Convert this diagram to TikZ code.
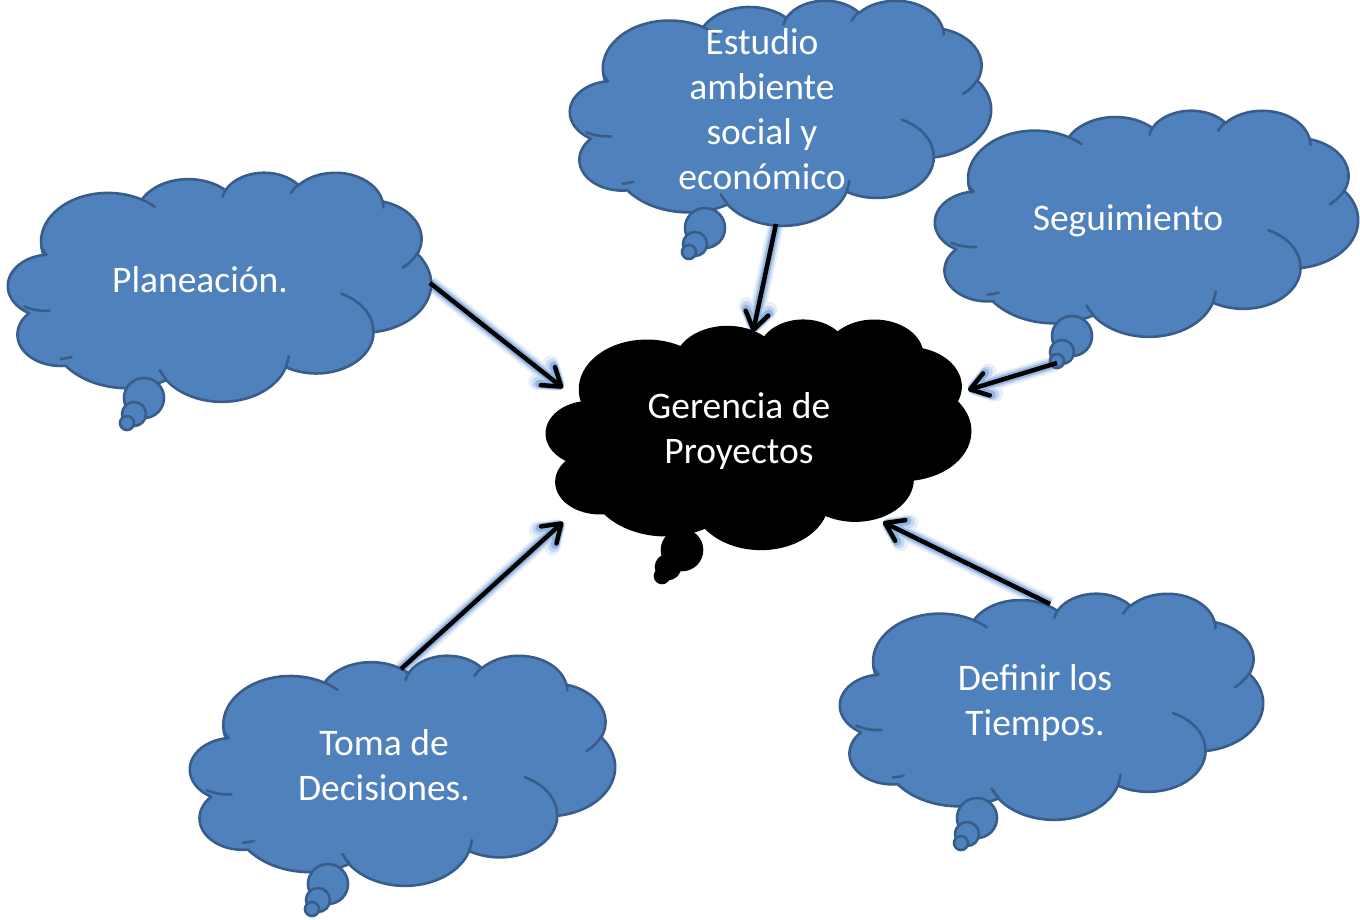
\documentclass[tikz,border=0pt]{standalone}
\usepackage{fontspec}
\setmainfont{Carlito}
\usetikzlibrary{arrows.meta}
\definecolor{cfill}{HTML}{4F81BD}
\definecolor{cline}{HTML}{385D8A}
\definecolor{glowc}{HTML}{5B8FD4}
% OOXML-style arc: wR hR stAng swAng (visual angles, degrees)
\newcommand\ooarc[4]{arc[x radius=#1, y radius=#2,
  start angle={atan2((#1)*sin(#3),(#2)*cos(#3))},
  delta angle={atan2((#1)*sin((#3)+(#4)),(#2)*cos((#3)+(#4))) - atan2((#1)*sin(#3),(#2)*cos(#3)) + 360*round(((#4) - atan2((#1)*sin((#3)+(#4)),(#2)*cos((#3)+(#4))) + atan2((#1)*sin(#3),(#2)*cos(#3)))/360)}]}
\newcommand\pptcloud[5]{%
\begin{scope}[shift={(#1,#2)},xscale=#3/43.2,yscale=#4/43.2]
\path[#5] (3.9,14.37) \ooarc{6.753}{9.19}{-190.48748}{123.78053}
 \ooarc{5.333}{7.267}{-144.10238}{89.94523}
 \ooarc{4.365}{5.945}{-145.80792}{99.72302}
 \ooarc{4.857}{6.595}{-130.98607}{117.24173}
 \ooarc{5.333}{7.273}{-78.70888}{109.02692}
 \ooarc{6.775}{9.22}{-46.26725}{130.269}
 \ooarc{5.785}{7.867}{0.62502}{114.03333}
 \ooarc{6.752}{9.215}{22.4516}{115.17255}
 \ooarc{7.72}{10.543}{66.24263}{68.10498}
 \ooarc{4.36}{5.918}{-274.94208}{146.73557}
 \ooarc{4.345}{5.945}{-246.8285}{152.51885} -- cycle;
\path[#5 inner] (4.693,26.177) \ooarc{4.345}{5.945}{86.742}{26.4295}
 (6.928,34.899) \ooarc{4.36}{5.918}{73.61047}{11.44747}
 (16.478,39.09) \ooarc{6.752}{9.215}{137.62415}{14.0811}
 (28.827,34.751) \ooarc{6.752}{9.215}{6.45327}{15.99835}
 (34.129,22.954) \ooarc{5.785}{7.867}{-70.29235}{70.91737}
 (41.798,15.354) \ooarc{5.333}{7.273}{30.31803}{27.7515}
 (38.324,5.426) \ooarc{4.857}{6.595}{-13.74433}{14.8589}
 (29.078,3.952) \ooarc{4.857}{6.595}{-149.18145}{18.19537}
 (22.141,4.72) \ooarc{4.365}{5.945}{-163.49427}{17.68635}
 (14,5.192) \ooarc{6.753}{9.19}{-66.70695}{12.31935}
 (4.127,15.789) \ooarc{6.753}{9.19}{157.65435}{11.85817};
\end{scope}}
\newcommand\cloudtail[4]{% style, big, mid, small
\path[#1] (#2) circle[radius=20];
\path[#1] (#3) circle[radius=12];
\path[#1] (#4) circle[radius=7];}
\tikzset{
  bluecloud/.style={fill=cfill, draw=cline, line width=2.6pt, line join=round},
  bluecloud inner/.style={draw=cline, line width=2.6pt, line cap=round},
  blackcloud/.style={fill=black, draw=black, line width=2.6pt, line join=round},
  blackcloud inner/.style={draw=black, line width=2.6pt},
  txt/.style={text=white, align=center, inner sep=0pt,
    font=\fontsize{37.5}{45}\selectfont,
    execute at begin node=\strut, execute at end node=\strut},
  tipA/.style={-{Straight Barb[length=17pt,width=23pt,round]}},
  conn/.style={tipA, draw=black, line width=4.5pt},
  glowA/.style={tipA, draw=glowc!14!white, line width=16pt},
  glowB/.style={tipA, draw=glowc!35!white, line width=12pt},
  glowC/.style={tipA, draw=glowc!65!white, line width=8.5pt},
}
\begin{document}
\begin{tikzpicture}[x=1pt,y=-1pt]
\useasboundingbox (0,0) rectangle (1360,919);
\fill[white] (0,0) rectangle (1360,919);
% connector ends
\coordinate (planS) at (430,283);  \coordinate (planT) at (563,388);
\coordinate (estuS) at (776,224);  \coordinate (estuT) at (753,332);
\coordinate (seguS) at (1057,363); \coordinate (seguT) at (968,390);
\coordinate (tomaS) at (401,669);  \coordinate (tomaT) at (563,522);
\coordinate (defiS) at (1050,604); \coordinate (defiT) at (883,522);
% glow (under the clouds)
\foreach \s in {glowA,glowB,glowC}{
  \draw[\s] (planS) -- (planT);
  \draw[\s] (estuS) -- (estuT);
  \draw[\s] (seguS) -- (seguT);
  \draw[\s] (tomaS) -- (tomaT);
  \draw[\s] (defiS) -- (defiT);
}
% clouds
\pptcloud{3}{172}{428}{229}{bluecloud}
\cloudtail{bluecloud}{144,398}{134,414}{127,423}
\pptcloud{565}{0}{426}{225}{bluecloud}
\cloudtail{bluecloud}{705,228}{695,244}{689,252}
\pptcloud{930}{110}{428}{226}{bluecloud}
\cloudtail{bluecloud}{1072,336}{1062,352}{1057,361}
\pptcloud{542}{320}{428}{228}{blackcloud}
\cloudtail{blackcloud}{682,550}{668,567}{662,576}
\pptcloud{185}{655}{430}{230}{bluecloud}
\cloudtail{bluecloud}{328,884}{318,900}{312,909}
\pptcloud{835}{593}{428}{226}{bluecloud}
\cloudtail{bluecloud}{977,818}{967,834}{961,843}
% texts
\node[txt] (plan) at (200,283) {Planeación.};
\node[txt] (estu) at (762,116) {Estudio\\ambiente\\social y\\económico};
\node[txt] (segu) at (1128,221) {Seguimiento};
\node[txt] (gere) at (739,434.5) {Gerencia de\\Proyectos};
\node[txt] (toma) at (384,772) {Toma de\\Decisiones.};
\node[txt] (defi) at (1035,706.5) {Definir los\\Tiempos.};
% connectors
\draw[conn] (planS) -- (planT);
\draw[conn] (estuS) -- (estuT);
\draw[conn] (seguS) -- (seguT);
\draw[conn] (tomaS) -- (tomaT);
\draw[conn] (defiS) -- (defiT);
\end{tikzpicture}
\end{document}
